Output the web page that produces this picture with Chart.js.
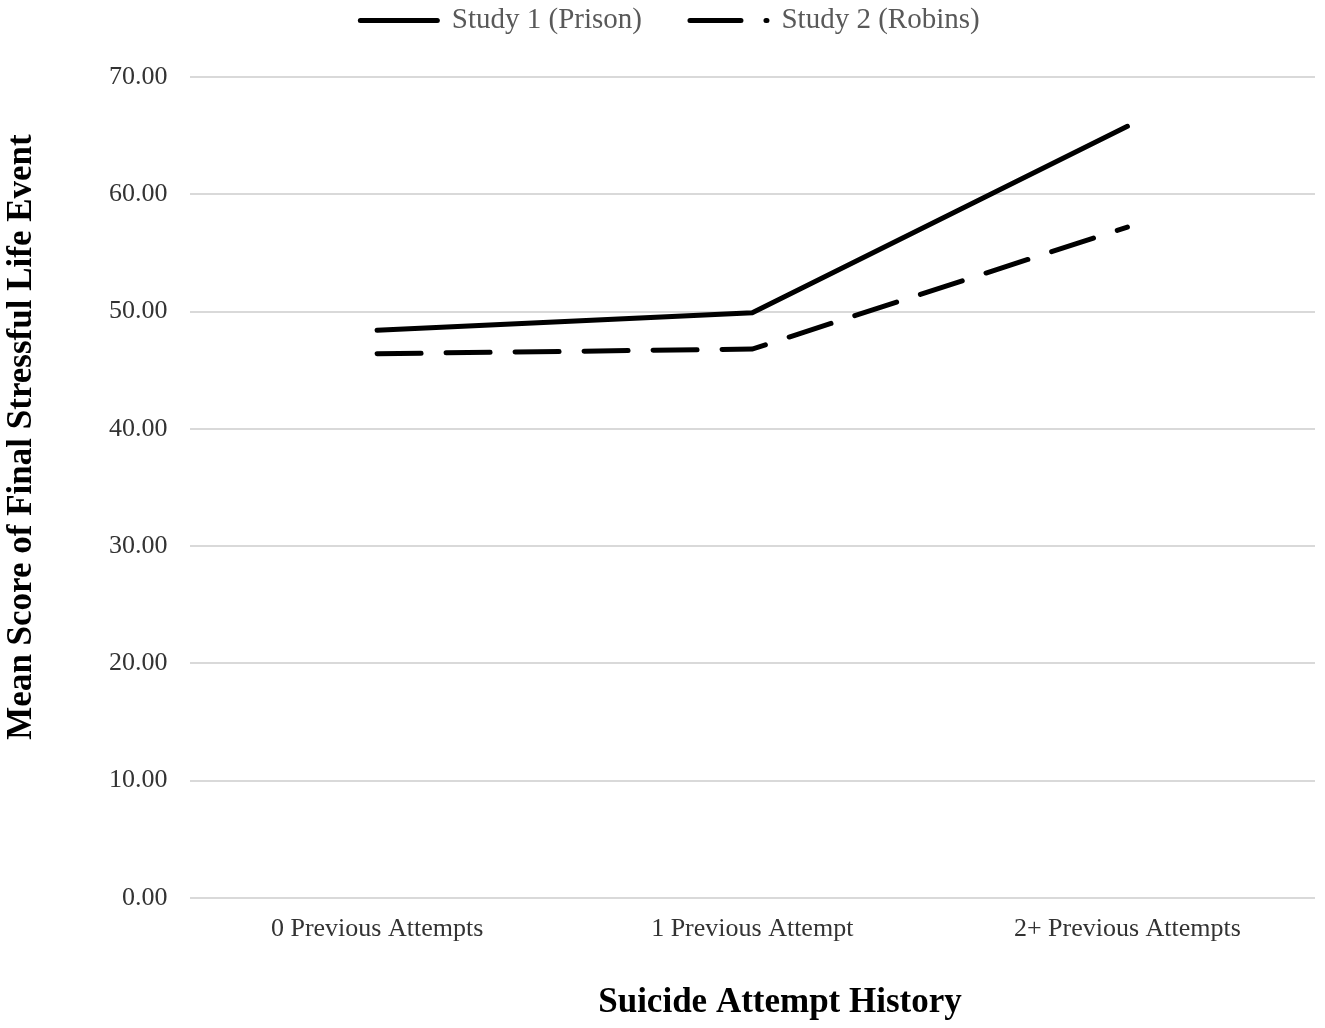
<!DOCTYPE html>
<html lang="en">
<head>
    <meta charset="UTF-8">
    <title>Final Stressful Life Event by Suicide Attempt History</title>
    <script src="https://cdn.jsdelivr.net/npm/chart.js"></script>
    <style>
        html, body { margin: 0; padding: 0; background: #ffffff; }
        #wrap { width: 1325px; height: 1028px; }
    </style>
</head>
<body>
    <div id="wrap"><canvas id="chart"></canvas></div>

    <script>
        const categories = ['0 Previous Attempts', '1 Previous Attempt', '2+ Previous Attempts'];
        const prisonScores = [48.4, 49.9, 65.8];
        const robinsScores = [46.4, 46.8, 57.2];
        const yTicks = [0, 10, 20, 30, 40, 50, 60, 70];
        const xTitle = 'Suicide Attempt History';
        const yTitle = 'Mean Score of Final Stressful Life Event';

        const serif = "'Liberation Serif', 'Times New Roman', serif";

        // extra space between legend and plot
        const legendGap = {
            id: 'legendGap',
            beforeInit(chart) {
                const fit = chart.legend.fit;
                chart.legend.fit = function () {
                    fit.bind(chart.legend)();
                    this.height += 32;
                };
            }
        };

        // axis titles are not centred on the plot in the original, so draw them here
        const axisTitles = {
            id: 'axisTitles',
            afterDraw(chart) {
                const ctx = chart.ctx;
                ctx.save();
                ctx.font = 'bold 35px ' + serif;
                ctx.fillStyle = '#000000';
                ctx.textAlign = 'center';
                ctx.textBaseline = 'middle';
                ctx.fillText(xTitle, 780, 1003);
                ctx.translate(22, 437);
                ctx.rotate(-Math.PI / 2);
                ctx.fillText(yTitle, 0, 0);
                ctx.restore();
            }
        };

        new Chart(document.getElementById('chart'), {
            type: 'line',
            data: {
                labels: categories,
                datasets: [
                    {
                        label: 'Study 1 (Prison)',
                        data: prisonScores,
                        borderColor: '#000000',
                        backgroundColor: '#000000',
                        borderWidth: 5,
                        borderCapStyle: 'round',
                        pointRadius: 0,
                        tension: 0,
                        fill: false
                    },
                    {
                        label: 'Study 2 (Robins)',
                        data: robinsScores,
                        borderColor: '#000000',
                        backgroundColor: '#000000',
                        borderWidth: 5,
                        borderCapStyle: 'round',
                        borderDash: [44, 25],
                        pointRadius: 0,
                        tension: 0,
                        fill: false
                    }
                ]
            },
            options: {
                responsive: true,
                maintainAspectRatio: false,
                animation: false,
                layout: { padding: { left: 25, right: 10, top: -42, bottom: 1 } },
                plugins: {
                    tooltip: { enabled: false },
                    legend: {
                        position: 'top',
                        labels: {
                            usePointStyle: true,
                            pointStyle: 'line',
                            pointStyleWidth: 77,
                            color: '#595959',
                            font: { family: serif, size: 29 },
                            padding: 48,
                            generateLabels: chart => chart.data.datasets.map((ds, i) => ({
                                text: ds.label,
                                datasetIndex: i,
                                fillStyle: ds.borderColor,
                                strokeStyle: ds.borderColor,
                                lineWidth: ds.borderWidth,
                                lineCap: 'round',
                                lineDash: ds.borderDash ? [51, 25] : [],
                                pointStyle: 'line',
                                fontColor: '#595959',
                                hidden: false
                            }))
                        }
                    }
                },
                scales: {
                    x: {
                        offset: true,
                        grid: { display: false },
                        border: { display: false },
                        afterFit: axis => { axis.height += 74; },
                        ticks: {
                            color: '#333333',
                            font: { family: serif, size: 26 },
                            padding: 8,
                            maxRotation: 0
                        }
                    },
                    y: {
                        min: 0,
                        max: 70,
                        afterBuildTicks: axis => { axis.ticks = yTicks.map(v => ({ value: v })); },
                        afterFit: axis => { axis.width += 62; },
                        grid: { color: '#d9d9d9', lineWidth: 2, drawTicks: false },
                        border: { display: false },
                        ticks: {
                            color: '#333333',
                            font: { family: serif, size: 26 },
                            padding: 22,
                            callback: v => Number(v).toFixed(2)
                        }
                    }
                }
            },
            plugins: [legendGap, axisTitles]
        });
    </script>
</body>
</html>
